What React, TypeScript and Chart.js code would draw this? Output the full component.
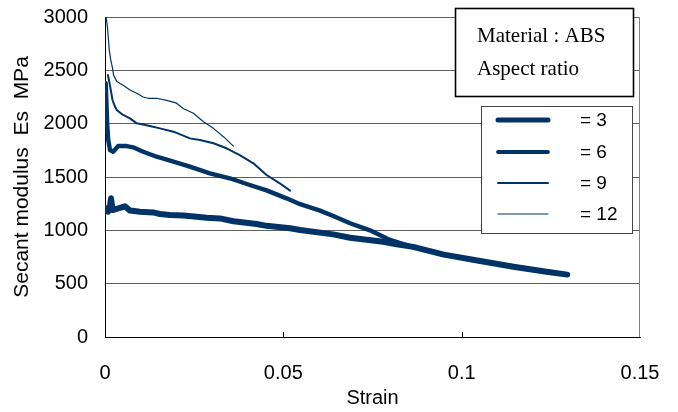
import React, { useEffect, useRef } from 'react';
import { Chart, registerables } from 'chart.js';

Chart.register(...registerables);

// ---- data ----
const strainAR3 = [0.0001, 0.0003, 0.0009, 0.0013, 0.0017, 0.0021, 0.0037, 0.0056, 0.007, 0.0098, 0.0135, 0.0154, 0.0182, 0.022, 0.0257, 0.0285, 0.0322, 0.036, 0.0425, 0.0453, 0.0519, 0.0547, 0.064, 0.0687, 0.078, 0.0818, 0.0864, 0.095, 0.1052, 0.1145, 0.1238, 0.1296];
const modulusAR3 = [1190, 1206, 1175, 1200, 1300, 1190, 1205, 1225, 1185, 1175, 1168, 1153, 1144, 1140, 1128, 1119, 1112, 1085, 1060, 1042, 1020, 1003, 962, 930, 893, 870, 845, 772, 712, 659, 612, 585];

const strainAR6 = [0.0002, 0.0004, 0.0006, 0.0009, 0.0014, 0.0023, 0.0037, 0.0061, 0.0079, 0.0107, 0.0145, 0.0192, 0.0238, 0.0294, 0.035, 0.0406, 0.0453, 0.0509, 0.0547, 0.0603, 0.064, 0.0687, 0.0743, 0.0799, 0.085];
const modulusAR6 = [2380, 2200, 2000, 1850, 1753, 1737, 1790, 1790, 1778, 1737, 1690, 1644, 1597, 1534, 1488, 1425, 1375, 1300, 1245, 1185, 1135, 1066, 1000, 910, 858];

const strainAR9 = [0.0008, 0.0012, 0.0017, 0.0021, 0.0028, 0.0033, 0.0047, 0.007, 0.0089, 0.0126, 0.0154, 0.0192, 0.0238, 0.0266, 0.0304, 0.0341, 0.0378, 0.0416, 0.0453, 0.049, 0.0519];
const modulusAR9 = [2456, 2393, 2300, 2222, 2159, 2128, 2090, 2050, 2003, 1978, 1956, 1925, 1862, 1847, 1816, 1769, 1706, 1628, 1519, 1441, 1372];

const strainAR12 = [0.0003, 0.0007, 0.0009, 0.0012, 0.0016, 0.0021, 0.0024, 0.0033, 0.0051, 0.007, 0.0089, 0.0107, 0.0121, 0.0145, 0.0173, 0.0201, 0.022, 0.0248, 0.0276, 0.0304, 0.0332, 0.036];
const modulusAR12 = [3000, 2900, 2815, 2690, 2600, 2520, 2455, 2395, 2360, 2315, 2285, 2250, 2238, 2238, 2218, 2192, 2140, 2097, 2018, 1956, 1878, 1790];

const seriesLabels = ['= 3', '= 6', '= 9', '= 12'];
const xTicks = [0, 0.05, 0.1, 0.15];
const yTicks = [0, 500, 1000, 1500, 2000, 2500, 3000];
const noteLines = ['Material : ABS', 'Aspect ratio'];
const xTitle = 'Strain';
const yTitle = 'Secant modulus  Es  MPa';

// ---- styles ----
const LINE_COLOR = '#003366';
const lineWidths = [6, 4.4, 2, 1.2];
const legendWidths = [5, 3.8, 2, 1.2];
const SANS = '"Liberation Sans", Arial, sans-serif';
const SERIF = '"Liberation Serif", "Times New Roman", serif';

const toPoints = (xs: number[], ys: number[]) => xs.map((x, i) => ({ x, y: ys[i] }));

const decorations = {
  id: 'decorations',
  beforeDatasetsDraw(chart: any) {
    const { ctx, chartArea, scales } = chart;
    ctx.save();
    // right frame line
    ctx.strokeStyle = '#808080';
    ctx.lineWidth = 1;
    ctx.beginPath();
    const rx = Math.round(chartArea.right) - 0.5;
    ctx.moveTo(rx, chartArea.top);
    ctx.lineTo(rx, chartArea.bottom);
    ctx.stroke();
    // inner x tick marks
    ctx.strokeStyle = '#000';
    xTicks.slice(1, -1).forEach((v) => {
      const px = Math.round(scales.x.getPixelForValue(v)) + 0.5;
      ctx.beginPath();
      ctx.moveTo(px, chartArea.bottom);
      ctx.lineTo(px, chartArea.bottom - 5);
      ctx.stroke();
    });
    ctx.restore();
  },
  afterDraw(chart: any) {
    const { ctx } = chart;
    ctx.save();
    // note box
    ctx.fillStyle = '#fff';
    ctx.fillRect(455, 8, 179, 89);
    ctx.strokeStyle = '#000';
    ctx.lineWidth = 1.6;
    ctx.strokeRect(455.5, 8.5, 178, 88);
    ctx.fillStyle = '#000';
    ctx.font = '21px ' + SERIF;
    ctx.textBaseline = 'middle';
    ctx.textAlign = 'left';
    ctx.fillText(noteLines[0], 477, 36);
    ctx.fillText(noteLines[1], 477, 69);
    // legend box
    ctx.fillStyle = '#fff';
    ctx.fillRect(481, 106, 152, 127);
    ctx.strokeStyle = '#444';
    ctx.lineWidth = 1;
    ctx.strokeRect(481.5, 106.5, 151, 127);
    const ys = [120, 152, 183, 214];
    seriesLabels.forEach((label, i) => {
      ctx.strokeStyle = LINE_COLOR;
      ctx.lineWidth = legendWidths[i];
      ctx.lineCap = 'round';
      ctx.beginPath();
      ctx.moveTo(498, ys[i]);
      ctx.lineTo(548, ys[i]);
      ctx.stroke();
      ctx.fillStyle = '#000';
      ctx.font = '19px ' + SANS;
      ctx.fillText(label, 580, ys[i] + 1);
    });
    ctx.restore();
  },
};

export default function App() {
  const ref = useRef<HTMLCanvasElement>(null);
  useEffect(() => {
    const series = [
      toPoints(strainAR3, modulusAR3),
      toPoints(strainAR6, modulusAR6),
      toPoints(strainAR9, modulusAR9),
      toPoints(strainAR12, modulusAR12),
    ];
    const chart = new Chart(ref.current as HTMLCanvasElement, {
      type: 'line',
      data: {
        datasets: series.map((data, i) => ({
          label: seriesLabels[i],
          data,
          borderColor: LINE_COLOR,
          backgroundColor: LINE_COLOR,
          borderWidth: lineWidths[i],
          pointRadius: 0,
          tension: 0,
          fill: false,
          borderJoinStyle: 'round' as const,
          borderCapStyle: 'round' as const,
        })),
      },
      options: {
        animation: false,
        responsive: false,
        devicePixelRatio: 1,
        parsing: false as any,
        layout: { padding: { left: 0, top: 17, right: 38, bottom: 0 } },
        plugins: { legend: { display: false }, tooltip: { enabled: false } },
        scales: {
          x: {
            type: 'linear',
            min: 0,
            max: 0.15,
            afterBuildTicks: (s: any) => { s.ticks = xTicks.map((v) => ({ value: v })); },
            afterFit: (s: any) => { s.height = 75; s.paddingLeft = 0; s.paddingRight = 0; },
            grid: { display: false },
            border: { display: true, color: '#000', width: 1 },
            ticks: {
              padding: 16,
              color: '#000',
              font: { family: SANS, size: 20 },
              maxRotation: 0,
              callback: (v: any) => String(Number(Number(v).toFixed(2))),
            },
            title: {
              display: true,
              text: xTitle,
              color: '#000',
              font: { family: SANS, size: 20 },
              padding: { top: 0, bottom: 2 },
            },
          },
          y: {
            type: 'linear',
            min: 0,
            max: 3000,
            afterBuildTicks: (s: any) => { s.ticks = yTicks.map((v) => ({ value: v })); },
            afterFit: (s: any) => { s.width = 105; s.paddingTop = 0; s.paddingBottom = 0; },
            grid: { display: true, color: '#606060', lineWidth: 1, drawTicks: false },
            border: { display: true, color: '#000', width: 1 },
            ticks: {
              padding: 17,
              color: '#000',
              font: { family: SANS, size: 20 },
              callback: (v: any) => String(v),
            },
            title: {
              display: true,
              text: yTitle,
              color: '#000',
              font: { family: SANS, size: 21 },
              padding: { top: 10, bottom: 0 },
            },
          },
        },
      },
      plugins: [decorations],
    } as any);
    return () => chart.destroy();
  }, []);
  return (
    <div style={{ position: 'fixed', left: 0, top: 0, width: 678, height: 412, background: '#fff' }}>
      <canvas ref={ref} width={678} height={412} style={{ display: 'block', width: 678, height: 412 }} />
    </div>
  );
}
